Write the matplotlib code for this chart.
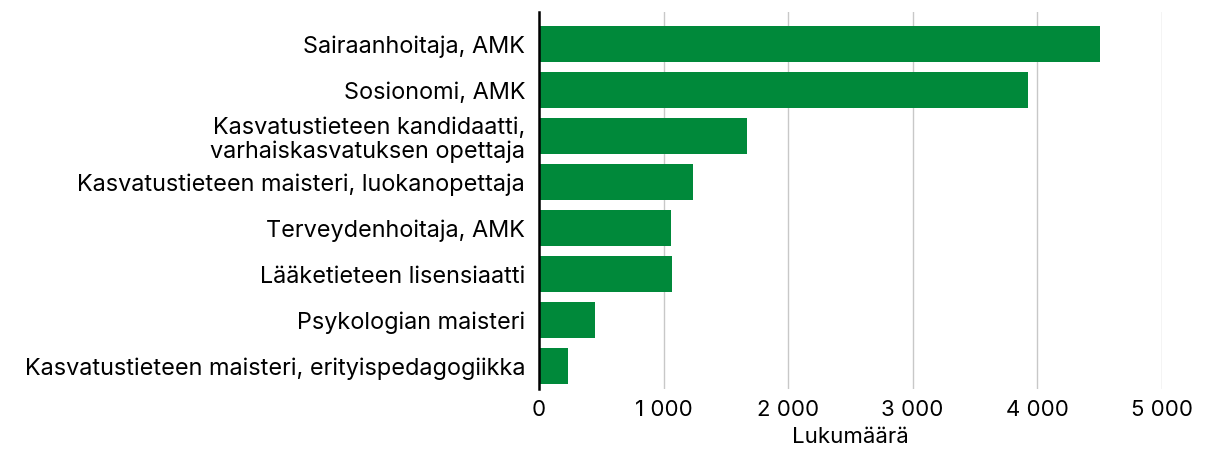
import matplotlib
matplotlib.use("Agg")
import matplotlib.pyplot as plt
from matplotlib.ticker import FuncFormatter

categories = [
    "Sairaanhoitaja, AMK",
    "Sosionomi, AMK",
    "Kasvatustieteen kandidaatti,\nvarhaiskasvatuksen opettaja",
    "Kasvatustieteen maisteri, luokanopettaja",
    "Terveydenhoitaja, AMK",
    "Lääketieteen lisensiaatti",
    "Psykologian maisteri",
    "Kasvatustieteen maisteri, erityispedagogiikka",
]
counts = [4505, 3930, 1667, 1234, 1058, 1066, 448, 231]
x_ticks = [0, 1000, 2000, 3000, 4000, 5000]

plt.rcParams['font.family'] = ['Inter', 'DejaVu Sans']

fig = plt.figure(figsize=(12.28, 4.53), dpi=100)
ax = fig.add_axes([0.439, 0.1413, 0.507, 0.8322])

pos = list(range(len(categories)))
ax.barh(pos, counts, height=0.78, color='#00893A', zorder=2)
ax.set_ylim(7.49, -0.70)
ax.set_yticks(pos)
ax.set_yticklabels(categories, fontsize=16.9, linespacing=1.12)

ax.set_xlim(0, 5000)
ax.set_xticks(x_ticks)
ax.xaxis.set_major_formatter(FuncFormatter(lambda v, p: "{:,.0f}".format(v).replace(",", " ")))
ax.tick_params(axis='x', labelsize=16, length=0, pad=8)
ax.tick_params(axis='y', length=0, pad=10)
ax.grid(axis='x', color='#c8c8c8', linewidth=1, zorder=0)

for side in ['top', 'right', 'bottom']:
    ax.spines[side].set_visible(False)
ax.spines['left'].set_linewidth(1.8)
ax.spines['left'].set_color('black')
ax.spines['left'].set_zorder(3)

ax.set_xlabel("Lukumäärä", fontsize=16, labelpad=5)

fig.savefig("out.png", dpi=100)
